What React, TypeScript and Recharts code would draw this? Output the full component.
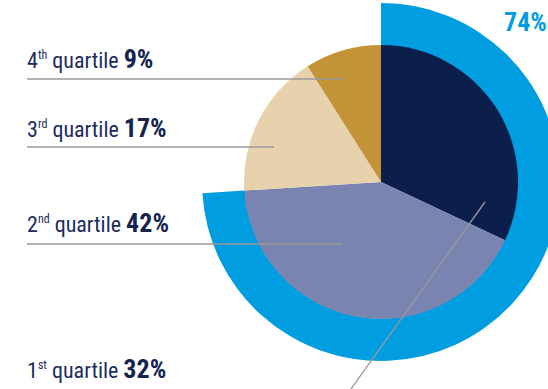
import React from 'react'
import { PieChart, Pie, Cell } from 'recharts'

// inner pie: share of each quartile, drawn clockwise from 12 o'clock
const quartiles = ['1st', '2nd', '3rd', '4th']
const ordinals = ['1', '2', '3', '4']
const suffixes = ['st', 'nd', 'rd', 'th']
const shares = [32, 42, 17, 9]
const sliceColors = ['#0C1E4B', '#7A84B1', '#E8D2AE', '#C29437']

// outer ring: single share
const ringShare = 74
const ringColor = '#009DE0'

const W = 548
const H = 389
const CX = 381
const CY = 182
const R = 137
const RING_R = 179

// leader line layout (label baseline, line y, anchor inside slice relative to centre)
const labelBase = [378, 232, 137, 68]
const lineY = [0, 244, 147, 79]
const anchor = [[104, 20], [-39, 63], [-107, -34], [-38, -103]]

const FONT = '"Liberation Sans Narrow", "Roboto Condensed", "Liberation Sans", sans-serif'
const TEXT = '#1D2C5C'

const pieData = quartiles.map((q, i) => ({ name: q, value: shares[i] }))
const ringData = [{ name: 'yes', value: ringShare }, { name: 'rest', value: 100 - ringShare }]

function QuartileLabel(p: any) {
  const i = p.index
  const ax = p.cx + anchor[i][0]
  const ay = p.cy + anchor[i][1]
  let line
  if (i === 0) {
    // diagonal leader down to the bottom edge
    const k = (H + 10 - ay)
    line = <line x1={ax} y1={ay} x2={ax - k * 0.717} y2={H + 10} stroke="#9A9A9A" strokeWidth={1.3} />
  } else {
    line = <line x1={27} y1={lineY[i]} x2={ax} y2={lineY[i]} stroke="#9A9A9A" strokeWidth={1.3} />
  }
  return (
    <g>
      {line}
      <text x={27} y={labelBase[i]} fontFamily={FONT} fill={TEXT} fontSize={22}>
        <tspan>{ordinals[i]}</tspan>
        <tspan fontSize={12} dy={-9}>{suffixes[i]}</tspan>
        <tspan dy={9}> quartile </tspan>
        <tspan fontWeight={700} fontSize={26} fill="#14244F">{shares[i]}%</tspan>
      </text>
    </g>
  )
}

function RingLabel(p: any) {
  if (p.index !== 0) return null
  return (
    <text x={504} y={31} fontFamily={FONT} fontWeight={700} fontSize={26} fill={ringColor}>
      {ringShare}%
    </text>
  )
}

export default function App() {
  return (
    <div style={{ position: 'absolute', left: 0, top: 0, width: W, height: H, background: '#fff' }}>
      <PieChart width={W} height={H} margin={{ top: 0, right: 0, bottom: 0, left: 0 }}>
        <Pie
          data={ringData}
          dataKey="value"
          cx={CX}
          cy={CY}
          innerRadius={R - 0.5}
          outerRadius={RING_R}
          startAngle={90}
          endAngle={-270}
          stroke="none"
          label={RingLabel}
          labelLine={false}
          isAnimationActive={false}
        >
          {ringData.map((d, i) => (
            <Cell key={d.name} fill={i === 0 ? ringColor : 'transparent'} />
          ))}
        </Pie>
        <Pie
          data={pieData}
          dataKey="value"
          cx={CX}
          cy={CY}
          outerRadius={R}
          startAngle={90}
          endAngle={-270}
          stroke="none"
          label={QuartileLabel}
          labelLine={false}
          isAnimationActive={false}
        >
          {pieData.map((d, i) => (
            <Cell key={d.name} fill={sliceColors[i]} />
          ))}
        </Pie>
      </PieChart>
    </div>
  )
}
